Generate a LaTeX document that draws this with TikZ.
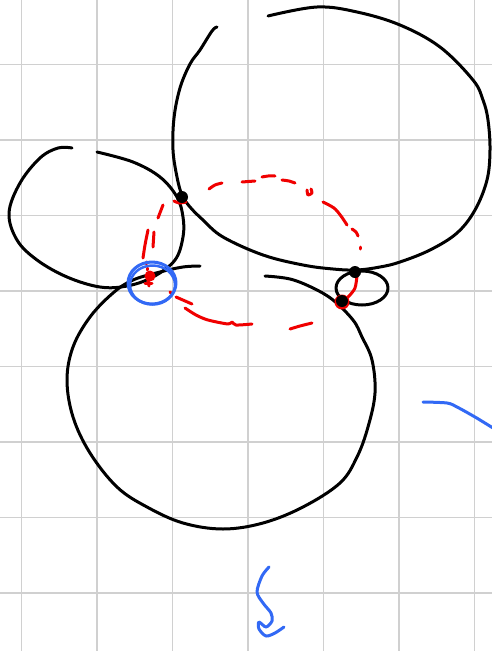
\documentclass[tikz,border=0pt]{standalone}
\usetikzlibrary{calc}
\definecolor{gridgray}{RGB}{208,208,208}
\definecolor{penblue}{RGB}{50,105,245}
\definecolor{penred}{RGB}{240,0,0}
\tikzset{
  gridline/.style={gridgray,line width=1.8pt},
  ink/.style={black,line width=3pt,line cap=round,line join=round},
  redink/.style={penred,line width=3pt,line cap=round,line join=round},
  blueink/.style={penblue,line width=3pt,line cap=round,line join=round},
  blackdot/.style={circle,fill=black,inner sep=0pt,minimum size=12pt},
  reddot/.style={circle,fill=penred,inner sep=0pt,minimum size=11pt}
}
\begin{document}
\begin{tikzpicture}[x=1pt,y=-1pt]
\useasboundingbox (0,0) rectangle (492,651);
\fill[white] (0,0) rectangle (492,651);
% grid
\foreach \gx in {21.5,97,172.5,248,323.5,399,474.5}
  \draw[gridline] (\gx,0) -- (\gx,651);
\foreach \gy in {64.5,140,215.5,291,366.5,442,517.5,593}
  \draw[gridline] (0,\gy) -- (492,\gy);

% big top circle (open)
\draw[ink] plot[smooth,tension=0.6] coordinates {(217,27) (212,31) (200,50) (190,64) (180,88) (174,118) (173,150) (177,177) (182,195) (190,207) (203,220) (223,237) (263,255) (303,265) (333,269) (357,270) (380,267) (400,262) (430,250) (457,233) (475,210) (487,180) (490,150) (488,120) (483,100) (473,80) (440,47) (400,25) (357,12) (317,7) (268,16)};

% left loop
\draw[ink] plot[smooth,tension=0.6] coordinates {(72,148) (58,148) (40,158) (20,183) (9,213) (17,240) (37,260) (67,277) (100,287) (127,286) (153,277) (175,260) (183,237) (183,217) (177,197) (160,177) (133,162) (97,152)};

% bottom big circle (open)
\draw[ink] plot[smooth,tension=0.6] coordinates {(265,276) (290,279) (313,288) (333,300) (353,320) (362,337) (372,360) (375,393) (368,427) (357,457) (340,483) (303,507) (263,523) (223,529) (183,523) (147,507) (117,487) (90,453) (73,417) (67,380) (73,347) (90,317) (113,293) (133,280) (160,272) (183,267) (200,266)};

% small right ellipse
\draw[ink] (362,288) ellipse [x radius=26, y radius=17];

% red dashed path
\draw[redink] (163,205) -- (158,218);
\draw[redink] plot[smooth] coordinates {(148,230) (145,245) (143,258)};
\draw[redink] (154,232) -- (153,247);
\draw[redink] (146,262) -- (146,264);
\draw[redink] plot[smooth] coordinates {(209,189) (215,185) (222,183)};
\draw[redink] (242,182) -- (255,181);
\draw[redink] plot[smooth] coordinates {(262,177) (268,176) (275,176)};
\draw[redink] plot[smooth] coordinates {(282,180) (289,181) (295,183)};
\draw[redink] plot[smooth,tension=0.4] coordinates {(307,190) (308,195) (312,193) (311,189)};
\draw[redink] plot[smooth] coordinates {(323,202) (334,208) (341,216) (347,225)};
\draw[redink] plot[smooth] coordinates {(352,229) (356,232) (358,236)};
\draw[redink] (360,247) -- (360,249);
\draw[redink] plot[smooth] coordinates {(357,276) (355,288) (349,296) (342,302)};
\draw[redink] (342,302) circle [radius=6];
\draw[redink] (170,292) -- (171,293);
\draw[redink] (176,297) -- (192,304);
\draw[redink] plot[smooth,tension=0.5] coordinates {(185,308) (196,315) (208,320) (228,324) (232,322) (236,325) (252,324)};
\draw[redink] plot[smooth] coordinates {(290,329) (300,326) (312,323)};
\draw[redink] plot[smooth] coordinates {(174,201) (179,203) (186,202)};

% intersection dots
\node[blackdot] (d1) at (182,197) {};
\node[blackdot] (d2) at (355,272) {};
\node[blackdot] (d3) at (342,301) {};
\node[reddot] (d4) at (150,276) {};
\draw[redink] (148,280) -- (149,286);
\draw[redink] (145,283) -- (152,283);
\draw[redink] (147,268) -- (147,270);

% blue circle highlight
\draw[blueink] (152,283) ellipse [x radius=24, y radius=21];
\draw[blueink,line width=2.5pt] (152.5,285) ellipse [x radius=22.5, y radius=19.5];

% blue squiggle bottom
\draw[blueink] plot[smooth,tension=0.5] coordinates {(269,567) (262,576) (257,592) (263,603) (271,613) (272,621) (266,627) (259,622) (259,629) (266,636) (275,633) (284,627)};
% blue stroke right
\draw[blueink] plot[smooth,tension=0.5] coordinates {(423,402) (447,403) (457,407) (475,417) (493,428)};
\end{tikzpicture}
\end{document}
